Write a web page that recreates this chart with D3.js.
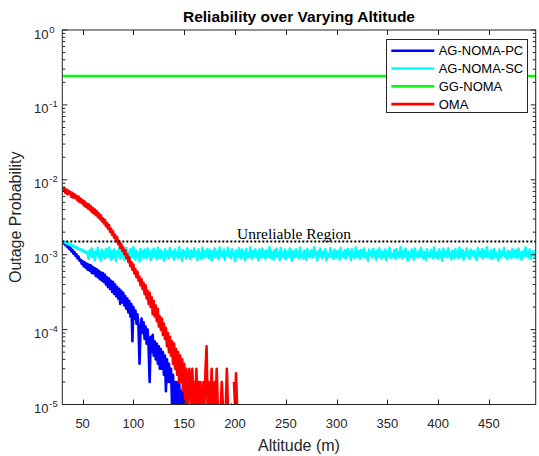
<!DOCTYPE html>
<html>
<head>
<meta charset="utf-8">
<script src="https://cdn.jsdelivr.net/npm/d3@7"></script>
<style>
  body { margin: 0; background: #fff; }
  svg { display: block; font-family: "Liberation Sans", Arial, sans-serif; }
</style>
</head>
<body>
<script>
// ---------------- DATA ----------------
const altitudeStart = 30;      // first simulated altitude (m)
const altitudeStep = 1;        // sampling step (m)
const xTicks = [50, 100, 150, 200, 250, 300, 350, 400, 450];
const yTickExponents = [0, -1, -2, -3, -4, -5];
const seriesNames = ["AG-NOMA-PC", "AG-NOMA-SC", "GG-NOMA", "OMA"];
const seriesColors = ["#0000ff", "#00ffff", "#00ff00", "#ff0000"];
const unreliableThreshold = 1.5e-3;
const unreliableLabel = "Unreliable Region";

// AG-NOMA-PC, altitudes 30, 31, ... 152
const agNomaPC = [
  152e-5,141e-5,146e-5,134e-5,138e-5,126e-5,131e-5,119e-5,124e-5,111e-5,116e-5,103e-5,108e-5,96e-5,101e-5,89e-5,94e-5,83e-5,86e-5,76e-5,
  82e-5,70e-5,79e-5,67e-5,76e-5,63e-5,74e-5,61e-5,72e-5,57e-5,69e-5,56e-5,66e-5,52e-5,64e-5,50e-5,61e-5,47e-5,58e-5,45e-5,
  57e-5,43e-5,54e-5,40e-5,50e-5,37e-5,48e-5,35e-5,45e-5,32e-5,43e-5,30e-5,40e-5,28e-5,37e-5,26e-5,35e-5,22e-5,33e-5,23e-5,
  31e-5,21e-5,28e-5,19e-5,26e-5,17e-5,24e-5,15e-5,22e-5,7e-5,20e-5,14e-5,18e-5,12e-5,16e-5,11e-5,3.5e-5,10e-5,14e-5,9e-5,
  12.5e-5,7.5e-5,11e-5,6.5e-5,10e-5,5.5e-5,2e-5,8e-5,5e-5,8.5e-5,4.5e-5,7e-5,4e-5,6.5e-5,3.5e-5,6e-5,3e-5,5.5e-5,3e-5,5e-5,
  2.5e-5,4.5e-5,1.5e-5,4e-5,2e-5,3.5e-5,2e-5,3e-5,1e-5,2.5e-5,1e-5,2e-5,1e-5,2e-5,1e-5,2e-5,1e-5,1.5e-5,1e-5,2e-5,
  1e-5,2e-5,1e-5
];

// AG-NOMA-SC, altitudes 30, 31, ... 496
const agNomaSC = [
  152e-5,148e-5,150e-5,144e-5,146e-5,139e-5,142e-5,136e-5,138e-5,131e-5,134e-5,128e-5,130e-5,124e-5,127e-5,120e-5,122e-5,117e-5,119e-5,113e-5,116e-5,110e-5,112e-5,106e-5,109e-5,
  104e-5,88e-5,114e-5,96e-5,121e-5,93e-5,107e-5,84e-5,111e-5,99e-5,124e-5,92e-5,105e-5,83e-5,116e-5,97e-5,109e-5,89e-5,119e-5,101e-5,
  94e-5,125e-5,99e-5,86e-5,112e-5,91e-5,117e-5,105e-5,82e-5,110e-5,98e-5,122e-5,89e-5,106e-5,95e-5,115e-5,85e-5,103e-5,123e-5,96e-5,
  108e-5,89e-5,118e-5,100e-5,92e-5,126e-5,103e-5,86e-5,114e-5,95e-5,107e-5,81e-5,120e-5,97e-5,110e-5,90e-5,117e-5,101e-5,91e-5,121e-5,
  97e-5,105e-5,85e-5,114e-5,92e-5,120e-5,96e-5,108e-5,87e-5,124e-5,99e-5,90e-5,115e-5,94e-5,107e-5,84e-5,118e-5,102e-5,93e-5,112e-5,
  90e-5,123e-5,101e-5,96e-5,110e-5,86e-5,117e-5,98e-5,106e-5,91e-5,126e-5,94e-5,103e-5,83e-5,115e-5,99e-5,109e-5,89e-5,121e-5,96e-5,
  106e-5,87e-5,114e-5,100e-5,93e-5,122e-5,97e-5,108e-5,85e-5,118e-5,95e-5,104e-5,88e-5,124e-5,99e-5,92e-5,112e-5,96e-5,119e-5,90e-5,
  101e-5,115e-5,84e-5,109e-5,96e-5,121e-5,92e-5,103e-5,112e-5,87e-5,125e-5,98e-5,106e-5,93e-5,117e-5,86e-5,104e-5,100e-5,123e-5,95e-5,
  109e-5,90e-5,118e-5,98e-5,105e-5,82e-5,114e-5,99e-5,93e-5,122e-5,101e-5,89e-5,116e-5,96e-5,108e-5,85e-5,119e-5,94e-5,106e-5,92e-5,
  125e-5,100e-5,88e-5,112e-5,96e-5,118e-5,93e-5,104e-5,84e-5,117e-5,102e-5,91e-5,121e-5,97e-5,110e-5,89e-5,114e-5,99e-5,94e-5,126e-5,
  91e-5,108e-5,101e-5,86e-5,115e-5,96e-5,120e-5,93e-5,106e-5,85e-5,123e-5,98e-5,104e-5,92e-5,117e-5,87e-5,110e-5,101e-5,94e-5,121e-5,
  100e-5,83e-5,112e-5,104e-5,93e-5,118e-5,97e-5,108e-5,89e-5,124e-5,96e-5,103e-5,90e-5,114e-5,100e-5,86e-5,120e-5,95e-5,106e-5,93e-5,
  115e-5,101e-5,92e-5,126e-5,98e-5,106e-5,85e-5,112e-5,95e-5,121e-5,102e-5,90e-5,109e-5,96e-5,118e-5,84e-5,104e-5,100e-5,93e-5,122e-5,
  95e-5,109e-5,88e-5,117e-5,100e-5,92e-5,113e-5,104e-5,86e-5,123e-5,97e-5,106e-5,93e-5,115e-5,89e-5,101e-5,120e-5,98e-5,108e-5,85e-5,
  118e-5,96e-5,104e-5,90e-5,125e-5,100e-5,93e-5,112e-5,88e-5,115e-5,101e-5,95e-5,121e-5,92e-5,106e-5,98e-5,83e-5,117e-5,102e-5,109e-5,
  92e-5,120e-5,98e-5,106e-5,86e-5,113e-5,95e-5,122e-5,100e-5,89e-5,109e-5,103e-5,93e-5,117e-5,85e-5,107e-5,98e-5,124e-5,91e-5,104e-5,
  101e-5,93e-5,115e-5,88e-5,118e-5,96e-5,106e-5,92e-5,126e-5,100e-5,89e-5,112e-5,95e-5,120e-5,98e-5,84e-5,109e-5,104e-5,93e-5,117e-5,
  106e-5,86e-5,121e-5,98e-5,103e-5,92e-5,113e-5,95e-5,123e-5,101e-5,90e-5,109e-5,100e-5,85e-5,118e-5,96e-5,104e-5,93e-5,115e-5,103e-5,
  89e-5,125e-5,100e-5,93e-5,108e-5,88e-5,117e-5,98e-5,106e-5,83e-5,120e-5,101e-5,95e-5,112e-5,92e-5,122e-5,98e-5,104e-5,87e-5,114e-5,
  100e-5,91e-5,118e-5,96e-5,109e-5,89e-5,124e-5,103e-5,93e-5,115e-5,86e-5,106e-5,100e-5,121e-5,95e-5,108e-5,88e-5,117e-5,98e-5,104e-5,
  113e-5,92e-5,103e-5,85e-5,122e-5,98e-5,108e-5,95e-5,118e-5,89e-5,112e-5,101e-5,93e-5,126e-5,96e-5,104e-5,90e-5,115e-5,100e-5,88e-5,
  119e-5,95e-5,106e-5,98e-5,84e-5,117e-5,103e-5,92e-5,111e-5,100e-5,123e-5,93e-5,104e-5,87e-5,113e-5,97e-5,108e-5,90e-5,118e-5,101e-5,
  93e-5,115e-5,100e-5,91e-5,121e-5,97e-5,106e-5,86e-5,110e-5,103e-5,95e-5,125e-5,98e-5,104e-5,92e-5,117e-5,88e-5,107e-5,100e-5,112e-5,
  96e-5,105e-5
];

// GG-NOMA (flat across all altitudes)
const ggNomaAltitudes = [30, 496];
const ggNoma = [0.243, 0.243];

// OMA, altitudes 30, 31, ... 202 (null = no outage observed)
const oma = [
  790e-5,715e-5,770e-5,668e-5,742e-5,640e-5,718e-5,655e-5,690e-5,590e-5,668e-5,575e-5,640e-5,570e-5,612e-5,530e-5,598e-5,505e-5,562e-5,492e-5,
  535e-5,458e-5,515e-5,438e-5,482e-5,418e-5,472e-5,398e-5,445e-5,372e-5,420e-5,355e-5,402e-5,338e-5,380e-5,318e-5,356e-5,300e-5,335e-5,280e-5,
  305e-5,262e-5,292e-5,240e-5,265e-5,222e-5,250e-5,202e-5,222e-5,185e-5,205e-5,168e-5,184e-5,152e-5,172e-5,138e-5,152e-5,124e-5,140e-5,113e-5,
  125e-5,102e-5,115e-5,90e-5,101e-5,80e-5,92e-5,70e-5,80e-5,63e-5,74e-5,56e-5,64e-5,50e-5,59e-5,45e-5,51e-5,39e-5,47e-5,35e-5,
  42e-5,30e-5,39e-5,26e-5,33e-5,22e-5,31e-5,20e-5,27e-5,16e-5,24e-5,15e-5,21e-5,13e-5,19e-5,11e-5,15e-5,10e-5,14e-5,8.5e-5,
  12e-5,7.5e-5,10.5e-5,6e-5,9e-5,5e-5,8e-5,4.5e-5,7e-5,3.5e-5,6.5e-5,3e-5,5.5e-5,2.5e-5,5e-5,2e-5,4.5e-5,2e-5,4e-5,1.5e-5,
  3.5e-5,1e-5,3e-5,2e-5,1e-5,3e-5,2e-5,1e-5,3e-5,1e-5,2e-5,1e-5,3e-5,1e-5,2e-5,1e-5,2e-5,1e-5,1e-5,2e-5,
  1e-5,3e-5,6e-5,1e-5,2e-5,1e-5,1e-5,3e-5,1e-5,1e-5,2e-5,1e-5,3e-5,1e-5,1e-5,null,1e-5,2e-5,1e-5,null,
  1e-5,1e-5,3e-5,1e-5,1e-5,null,1e-5,1e-5,null,2e-5,1e-5,2.6e-5,1e-5
];

// ---------------- CHART ----------------
const W = 539, H = 456;
const plot = { left: 62.3, right: 535.7, top: 30, bottom: 404.5 };
const axisColor = "#262626";

const svg = d3.select("body").append("svg").attr("width", W).attr("height", H);

const x = d3.scaleLinear().domain([30, 496]).range([plot.left, plot.right]);
const y = d3.scaleLog().domain([1e-5, 1]).range([plot.bottom, plot.top]);

svg.append("defs").append("clipPath").attr("id", "clip")
  .append("rect").attr("x", plot.left).attr("y", plot.top - 2)
  .attr("width", plot.right - plot.left).attr("height", plot.bottom - plot.top + 2);

function toPoints(values) {
  return values.map((v, i) => ({ a: altitudeStart + i * altitudeStep, v }));
}
const series = [
  toPoints(agNomaPC),
  toPoints(agNomaSC),
  ggNomaAltitudes.map((a, i) => ({ a, v: ggNoma[i] })),
  toPoints(oma)
];

const line = d3.line()
  .defined(d => d.v != null && d.v > 0)
  .x(d => x(d.a))
  .y(d => y(d.v));

const g = svg.append("g").attr("clip-path", "url(#clip)");
series.forEach((s, i) => {
  g.append("path").datum(s)
    .attr("fill", "none")
    .attr("stroke", seriesColors[i])
    .attr("stroke-width", 2.6)
    .attr("stroke-linejoin", "round")
    .attr("d", line);
});

// threshold dotted line
svg.append("line")
  .attr("x1", plot.left).attr("x2", plot.right)
  .attr("y1", y(unreliableThreshold)).attr("y2", y(unreliableThreshold))
  .attr("stroke", "#000").attr("stroke-width", 2).attr("stroke-dasharray", "2,2");
svg.append("text")
  .attr("x", x(202)).attr("y", y(unreliableThreshold) - 3)
  .attr("font-family", "'Liberation Serif', 'DejaVu Serif', serif")
  .attr("font-size", 14)
  .attr("textLength", 114).attr("lengthAdjust", "spacingAndGlyphs")
  .attr("fill", "#000")
  .text(unreliableLabel);

// axes (MATLAB style, ticks inward)
const axG = svg.append("g").attr("stroke", axisColor).attr("stroke-width", 1).attr("fill", "none");
xTicks.forEach(t => {
  const px = Math.round(x(t)) + 0.5;
  axG.append("line").attr("x1", px).attr("x2", px).attr("y1", plot.bottom).attr("y2", plot.bottom - 5);
  axG.append("line").attr("x1", px).attr("x2", px).attr("y1", plot.top).attr("y2", plot.top + 5);
});
yTickExponents.forEach(e => {
  const py = y(Math.pow(10, e));
  axG.append("line").attr("x1", plot.left).attr("x2", plot.left + 5).attr("y1", py).attr("y2", py);
  axG.append("line").attr("x1", plot.right).attr("x2", plot.right - 5).attr("y1", py).attr("y2", py);
});
const minorTicks = y.ticks().filter(v => !yTickExponents.some(e => Math.abs(Math.log10(v) - e) < 1e-9));
minorTicks.forEach(v => {
  const py = y(v);
  axG.append("line").attr("x1", plot.left).attr("x2", plot.left + 3).attr("y1", py).attr("y2", py);
  axG.append("line").attr("x1", plot.right).attr("x2", plot.right - 3).attr("y1", py).attr("y2", py);
});
axG.append("rect")
  .attr("x", plot.left).attr("y", plot.top)
  .attr("width", plot.right - plot.left).attr("height", plot.bottom - plot.top);

// x tick labels
svg.append("g").selectAll("text").data(xTicks).join("text")
  .attr("x", d => x(d)).attr("y", 427.5)
  .attr("text-anchor", "middle").attr("font-size", 13).attr("fill", axisColor)
  .text(d => d);

// y tick labels 10^e
const yl = svg.append("g").attr("fill", axisColor);
yTickExponents.forEach(e => {
  const py = y(Math.pow(10, e));
  yl.append("text").attr("x", 48.5).attr("y", py + 8.5)
    .attr("text-anchor", "end").attr("font-size", 13).text("10");
  yl.append("text").attr("x", 49.3).attr("y", py + 2.5)
    .attr("font-size", 9.5).text(e === 0 ? "0" : "-" + Math.abs(e));
});

// axis labels and title
svg.append("text").attr("x", (plot.left + plot.right) / 2).attr("y", 451)
  .attr("text-anchor", "middle").attr("font-size", 16).attr("fill", axisColor)
  .text("Altitude (m)");
svg.append("text")
  .attr("transform", `translate(20.5,${(plot.top + plot.bottom) / 2}) rotate(-90)`)
  .attr("text-anchor", "middle").attr("font-size", 16).attr("fill", axisColor)
  .text("Outage Probability");
svg.append("text").attr("x", (plot.left + plot.right) / 2).attr("y", 22)
  .attr("text-anchor", "middle").attr("font-size", 15.5).attr("font-weight", "bold")
  .attr("fill", "#000")
  .text("Reliability over Varying Altitude");

// legend
const lg = svg.append("g");
lg.append("rect").attr("x", 386.5).attr("y", 39.5).attr("width", 141).attr("height", 73)
  .attr("fill", "#fff").attr("stroke", axisColor).attr("stroke-width", 1);
seriesNames.forEach((n, i) => {
  const cy = 50.7 + i * 17.8;
  lg.append("line").attr("x1", 391.3).attr("x2", 434.3).attr("y1", cy).attr("y2", cy)
    .attr("stroke", seriesColors[i]).attr("stroke-width", 2.6);
  lg.append("text").attr("x", 438.7).attr("y", cy + 4.7)
    .attr("font-size", 13).attr("fill", "#000").text(n);
});
</script>
</body>
</html>
